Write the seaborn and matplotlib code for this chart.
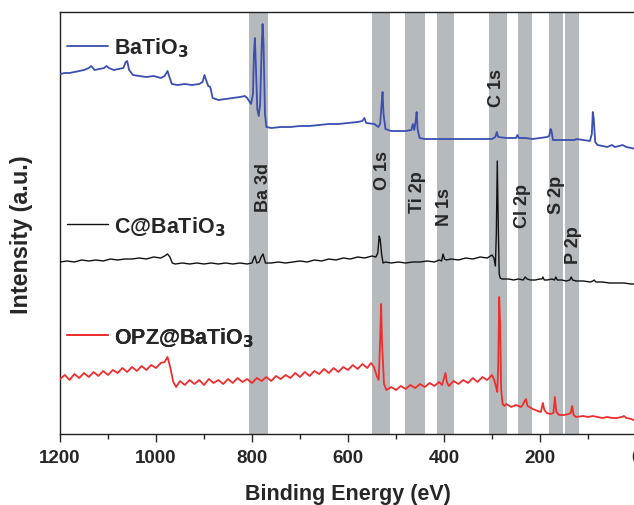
import numpy as np
import pandas as pd
import seaborn as sns
import matplotlib.pyplot as plt
from matplotlib.ticker import MultipleLocator

# --- data (binding energy in eV, intensity in a.u.) ---
ev_bto = [1200, 1190, 1180, 1170, 1160, 1150, 1140, 1135, 1128, 1118,
          1108, 1103, 1098, 1088, 1078, 1068, 1063, 1060, 1056, 1048,
          1035, 1020, 1005, 990, 982, 976, 972, 967, 955, 940,
          925, 910, 903, 899, 895, 891, 887, 882, 870, 855,
          840, 825, 815, 810, 806, 802, 798, 796, 794, 792,
          789, 786, 783, 780, 778, 776, 773, 770, 760, 740,
          720, 700, 680, 660, 640, 620, 600, 580, 570, 566,
          562, 545, 537, 533, 530, 528, 526, 522, 510, 495,
          480, 468, 465, 462, 459, 457, 455, 451, 440, 420,
          400, 380, 360, 340, 320, 300, 293, 290, 287, 270,
          260, 250, 247, 244, 230, 215, 200, 185, 181, 178,
          176, 173, 165, 150, 140, 128, 124, 110, 96, 92,
          90, 88, 85, 80, 70, 60, 50, 44, 35, 28,
          20, 10, 0]
int_bto = [360, 361, 361, 362, 363, 364, 366, 368, 364, 365,
           366, 368, 366, 364, 365, 366, 372, 373, 364, 359,
           358, 357, 358, 356, 358, 363, 357, 350, 349, 350,
           349, 350, 352, 359, 353, 348, 347, 336, 334, 335,
           336, 337, 338, 336, 333, 330, 340, 380, 396, 370,
           325, 318, 330, 385, 410, 390, 320, 307, 306, 307,
           307, 308, 308, 309, 310, 310, 311, 312, 313, 316,
           311, 310, 307, 310, 330, 342, 320, 305, 303, 303,
           303, 304, 310, 304, 313, 322, 305, 296, 295, 295,
           295, 295, 295, 295, 295, 295, 297, 302, 297, 296,
           296, 296, 299, 296, 296, 295, 296, 297, 298, 305,
           303, 294, 294, 294, 294, 294, 295, 294, 293, 300,
           322, 315, 292, 289, 288, 287, 289, 287, 288, 289,
           287, 286, 285]

ev_cbto = [1200, 1185, 1170, 1155, 1140, 1125, 1110, 1095, 1080, 1065,
           1050, 1035, 1020, 1005, 990, 982, 976, 971, 966, 960,
           945, 930, 915, 900, 885, 870, 855, 840, 825, 810,
           800, 797, 794, 790, 785, 781, 777, 772, 760, 745,
           730, 715, 700, 685, 670, 655, 640, 625, 610, 595,
           580, 565, 550, 542, 538, 535, 533, 530, 527, 522,
           510, 495, 480, 465, 450, 435, 420, 410, 405, 402,
           399, 395, 385, 370, 355, 340, 325, 310, 300, 296,
           293, 291, 289, 287, 285, 283, 279, 272, 265, 255,
           245, 235, 231, 227, 220, 210, 200, 196, 194, 191,
           185, 175, 170, 167, 164, 155, 145, 138, 135, 132,
           125, 110, 95, 90, 87, 84, 70, 55, 40, 25,
           10, 0]
int_cbto = [172, 173, 172, 174, 173, 174, 173, 175, 174, 175,
            175, 176, 175, 177, 176, 178, 180, 177, 171, 170,
            171, 170, 171, 170, 171, 170, 171, 170, 171, 170,
            171, 175, 178, 171, 172, 177, 180, 171, 171, 172,
            171, 172, 173, 172, 174, 173, 175, 174, 176, 175,
            177, 176, 178, 177, 181, 198, 195, 180, 171, 172,
            171, 172, 171, 172, 172, 173, 172, 174, 173, 180,
            175, 174, 175, 174, 176, 175, 177, 176, 179, 176,
            168, 200, 273, 210, 160, 156, 155, 155, 155, 154,
            155, 154, 157, 155, 154, 154, 155, 155, 157, 154,
            154, 155, 154, 157, 154, 154, 153, 154, 157, 154,
            153, 153, 152, 153, 154, 152, 152, 151, 151, 151,
            150, 150]

ev_opz = [1200, 1190, 1180, 1170, 1160, 1150, 1140, 1130, 1120, 1110,
          1100, 1090, 1080, 1070, 1060, 1050, 1040, 1030, 1020, 1010,
          1000, 990, 982, 976, 970, 964, 958,
          950, 940, 930, 920, 910, 900, 890, 880, 870, 860,
          850, 840, 830, 820, 810, 800, 790, 780, 770, 760,
          750, 740, 730, 720, 710, 700, 690, 680, 670, 660,
          650, 640, 630, 620, 610, 600, 590, 580, 570, 560,
          552, 546, 540, 536, 533, 531, 529, 525, 520,
          510, 500, 490, 480, 470, 460, 450, 440, 430, 420,
          410, 404, 400, 397, 394, 390,
          380, 370, 360, 350, 340, 330, 320, 310, 300, 296,
          292, 289, 287, 285, 283, 281, 278, 274,
          270, 260, 250, 240, 236, 232, 229, 226, 222, 215,
          205, 198, 196, 194, 191, 186, 178, 172, 169, 166,
          160, 150, 140, 136, 133, 130, 125,
          110, 100, 90, 80, 70, 60, 50, 40, 30, 25,
          20, 10, 0]
int_opz = [55, 59, 54, 60, 56, 61, 57, 62, 58, 63,
           59, 64, 61, 66, 62, 67, 63, 68, 64, 69,
           66, 71, 72, 77, 66, 52, 47,
           53, 49, 54, 50, 54, 49, 55, 51, 54, 50,
           55, 51, 56, 52, 55, 51, 56, 53, 57, 53,
           58, 55, 59, 56, 61, 57, 62, 58, 63, 60,
           65, 61, 66, 62, 67, 64, 69, 65, 70, 66,
           71, 67, 58, 54, 95, 130, 90, 50, 44,
           47, 44, 48, 45, 49, 46, 50, 47, 51, 48,
           52, 49, 56, 61, 52, 48,
           53, 50, 54, 51, 56, 52, 57, 54, 59, 55,
           48, 42, 70, 137, 110, 45, 30, 28,
           30, 27, 29, 27, 29, 33, 35, 28, 27, 25,
           23, 22, 27, 31, 24, 21, 20, 21, 37, 22,
           19, 19, 20, 21, 28, 19, 17,
           18, 17, 18, 17, 16, 17, 16, 16, 17, 18,
           16, 15, 13]

series_names = ['BaTiO$_3$', 'C@BaTiO$_3$', 'OPZ@BaTiO$_3$']

# reference regions (eV) and their labels
band_labels = ['Ba 3d', 'O 1s', 'Ti 2p', 'N 1s', 'C 1s', 'Cl 2p', 'S 2p', 'P 2p']
band_hi = [806, 549, 481, 415, 306, 246, 182, 148]
band_lo = [767, 512, 440, 379, 269, 217, 153, 119]

# ---- style ----
sns.set_style('ticks')
plt.rcParams['font.family'] = ['Liberation Sans', 'DejaVu Sans']
plt.rcParams['font.weight'] = 'bold'
plt.rcParams['axes.labelweight'] = 'bold'
plt.rcParams['axes.linewidth'] = 1.0
plt.rcParams['axes.edgecolor'] = '#222222'

fig = plt.figure(figsize=(6.34, 5.06), dpi=100)
ax = fig.add_axes([60 / 634, 71 / 506, 576 / 634, 422 / 506])

for lo, hi in zip(band_lo, band_hi):
    ax.axvspan(lo, hi, color='#b7babd', lw=0, zorder=0)

colors = ['#3a4fb0', '#111111', '#ee2e2e']
widths = [1.3, 1.0, 1.3]
spectra = [(ev_bto, int_bto), (ev_cbto, int_cbto), (ev_opz, int_opz)]
handles = []
for (xs, ys), name, c, w in zip(spectra, series_names, colors, widths):
    sns.lineplot(x=xs, y=ys, color=c, lw=w, ax=ax, estimator=None, zorder=3)
    handles.append(ax.lines[-1])

# one legend next to each curve
leg_y = [0.917, 0.493, 0.230]
for h, name, y in zip(handles, series_names, leg_y):
    leg = ax.legend([h], [name], loc='center left', bbox_to_anchor=(0.012, y),
                    frameon=False, fontsize=15.5, handlelength=1.9,
                    handletextpad=0.3, borderpad=0, borderaxespad=0)
    ax.add_artist(leg)

# band labels, rotated
lab_x = [777, 529, 456, 398, 290, 237, 165, 131]
lab_y = [248, 265, 243, 228, 347, 229, 240, 190]
for t, x, y in zip(band_labels, lab_x, lab_y):
    ax.text(x, y, t, rotation=90, ha='center', va='center',
            fontsize=13, fontweight='bold', zorder=4)

ax.set_xlim(1200, 0)
ax.set_ylim(0, 422)
ax.set_yticks([])
ax.xaxis.set_major_locator(MultipleLocator(200))
ax.xaxis.set_minor_locator(MultipleLocator(100))
ax.tick_params(axis='x', which='major', direction='out', length=6, width=1.0,
               labelsize=13.5, pad=5)
ax.tick_params(axis='x', which='minor', direction='out', length=3.5, width=1.0)
for lab in ax.get_xticklabels():
    lab.set_fontweight('bold')

ax.set_xlabel('Binding Energy (eV)', fontsize=15.5, fontweight='bold', labelpad=12)
ax.set_ylabel('Intensity (a.u.)', fontsize=16.8, fontweight='bold')
ax.yaxis.set_label_coords(-0.047, 0.474)

plt.savefig('out.png', dpi=100)
